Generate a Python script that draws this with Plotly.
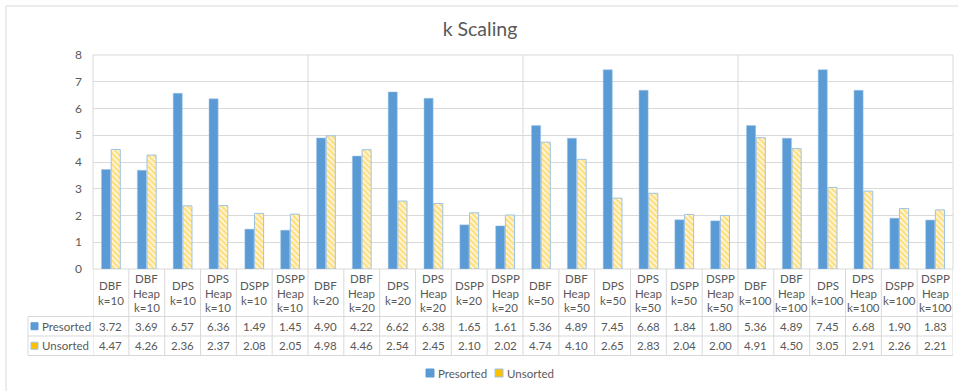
import plotly.graph_objects as go

# Categories (algorithm / k) and the two series
categories = [
    "DBF<br>k=10", "DBF<br>Heap<br>k=10", "DPS<br>k=10", "DPS<br>Heap<br>k=10", "DSPP<br>k=10", "DSPP<br>Heap<br>k=10",
    "DBF<br>k=20", "DBF<br>Heap<br>k=20", "DPS<br>k=20", "DPS<br>Heap<br>k=20", "DSPP<br>k=20", "DSPP<br>Heap<br>k=20",
    "DBF<br>k=50", "DBF<br>Heap<br>k=50", "DPS<br>k=50", "DPS<br>Heap<br>k=50", "DSPP<br>k=50", "DSPP<br>Heap<br>k=50",
    "DBF<br>k=100", "DBF<br>Heap<br>k=100", "DPS<br>k=100", "DPS<br>Heap<br>k=100", "DSPP<br>k=100", "DSPP<br>Heap<br>k=100",
]
presorted = [3.72, 3.69, 6.57, 6.36, 1.49, 1.45,
             4.90, 4.22, 6.62, 6.38, 1.65, 1.61,
             5.36, 4.89, 7.45, 6.68, 1.84, 1.80,
             5.36, 4.89, 7.45, 6.68, 1.90, 1.83]
unsorted = [4.47, 4.26, 2.36, 2.37, 2.08, 2.05,
            4.98, 4.46, 2.54, 2.45, 2.10, 2.02,
            4.74, 4.10, 2.65, 2.83, 2.04, 2.00,
            4.91, 4.50, 3.05, 2.91, 2.26, 2.21]
y_ticks = [0, 1, 2, 3, 4, 5, 6, 7, 8]
group_size = 6

W, H = 958, 391
ML, MR, MT, MB = 93, 5, 55, 122
PH = H - MT - MB
PW = W - ML - MR

BLUE = "#5B9BD5"
YELLOW = "#FFC000"
EDGE = "#9DC3E6"
GRID = "#D9D9D9"
TXT = "#595959"
FONT = "Lato"
FS = 11.5


def py(ypx):
    """pixel row -> paper y"""
    return (H - MB - ypx) / PH


def px(xpx):
    """pixel column -> paper x"""
    return (xpx - ML) / PW


fig = go.Figure()
fig.add_trace(go.Bar(
    name="Presorted", x=categories, y=presorted,
    marker=dict(color=BLUE, line=dict(color=EDGE, width=0.5)),
))
fig.add_trace(go.Bar(
    name="Unsorted", x=categories, y=unsorted,
    marker=dict(color="white", line=dict(color=EDGE, width=1),
                pattern=dict(shape="\\", fgcolor=YELLOW, bgcolor="white",
                             size=4, solidity=0.7)),
))

shapes = []
annotations = []
tfont = dict(size=FS, color=TXT, family=FONT)

# plot area frame and group separators
shapes.append(dict(type="rect", xref="paper", yref="paper", x0=0, x1=1, y0=0, y1=1,
                   line=dict(color=GRID, width=1), layer="below"))
for g in range(1, len(categories) // group_size):
    xs = g * group_size - 0.5
    shapes.append(dict(type="line", xref="x", yref="paper", x0=xs, x1=xs, y0=0, y1=1,
                       line=dict(color=GRID, width=1), layer="below"))

# outer chart border
shapes.append(dict(type="rect", xref="paper", yref="paper",
                   x0=px(6), x1=px(W + 5), y0=py(6), y1=py(H + 5),
                   line=dict(color=GRID, width=1)))

# data table grid
row_header_bottom = 316.5
row1_bottom = 336
row2_bottom = 355.5
label_left = 28
for ypx in (row_header_bottom, row1_bottom, row2_bottom):
    shapes.append(dict(type="line", xref="paper", yref="paper",
                       x0=px(label_left), x1=1, y0=py(ypx), y1=py(ypx),
                       line=dict(color=GRID, width=1)))
for i in range(len(categories) + 1):
    xs = i - 0.5
    shapes.append(dict(type="line", xref="x", yref="paper", x0=xs, x1=xs,
                       y0=py(H - MB), y1=py(row2_bottom),
                       line=dict(color=GRID, width=1)))
shapes.append(dict(type="line", xref="paper", yref="paper",
                   x0=px(label_left), x1=px(label_left),
                   y0=py(row_header_bottom), y1=py(row2_bottom),
                   line=dict(color=GRID, width=1)))

# table text: header lines are placed one by one for Excel-like spacing
line_rows = {2: [285, 300], 3: [278.5, 293, 307.5]}
for i, cat in enumerate(categories):
    parts = cat.split("<br>")
    for part, yc in zip(parts, line_rows[len(parts)]):
        annotations.append(dict(xref="x", yref="paper", x=i, y=py(yc), text=part,
                                showarrow=False, font=tfont, yanchor="middle"))
    annotations.append(dict(xref="x", yref="paper", x=i, y=py((row_header_bottom + row1_bottom) / 2),
                            text=f"{presorted[i]:.2f}", showarrow=False, font=tfont, yanchor="middle"))
    annotations.append(dict(xref="x", yref="paper", x=i, y=py((row1_bottom + row2_bottom) / 2),
                            text=f"{unsorted[i]:.2f}", showarrow=False, font=tfont, yanchor="middle"))


def key(x0, yc, fill, size=7):
    """small legend square"""
    h = size / 2
    shapes.append(dict(type="rect", xref="paper", yref="paper",
                       x0=px(x0), x1=px(x0 + size), y0=py(yc - h), y1=py(yc + h),
                       fillcolor=fill, line=dict(color=BLUE if fill == BLUE else EDGE, width=1)))


# series keys in the table's label column
for name, ya, yb, fill in (("Presorted", row_header_bottom, row1_bottom, BLUE),
                           ("Unsorted", row1_bottom, row2_bottom, YELLOW)):
    yc = (ya + yb) / 2
    key(31, yc, fill)
    annotations.append(dict(xref="paper", yref="paper", x=px(40), y=py(yc), text=name,
                            showarrow=False, xanchor="left", yanchor="middle", font=tfont))

# legend below the table
legend_y = 373
for name, x0, fill in (("Presorted", 426, BLUE), ("Unsorted", 495, YELLOW)):
    key(x0, legend_y, fill, size=8)
    annotations.append(dict(xref="paper", yref="paper", x=px(x0 + 10), y=py(legend_y), text=name,
                            showarrow=False, xanchor="left", yanchor="middle", font=tfont))

fig.update_layout(
    width=W, height=H,
    margin=dict(l=ML, r=MR, t=MT, b=MB),
    paper_bgcolor="white", plot_bgcolor="white",
    title=dict(text="k Scaling", x=480 / W, xanchor="center", y=1 - 29 / H, yanchor="middle",
               font=dict(size=19.5, color=TXT, family=FONT)),
    font=dict(family=FONT, color=TXT, size=FS),
    barmode="group", bargap=0.46, bargroupgap=0.06,
    shapes=shapes, annotations=annotations,
    showlegend=False,
)
fig.update_xaxes(showticklabels=False, showgrid=False, zeroline=False, ticks="",
                 range=[-0.5, len(categories) - 0.5], showline=False)
fig.update_yaxes(range=[0, 8], tickvals=y_ticks, showgrid=True, gridcolor=GRID, gridwidth=1,
                 zeroline=False, showline=False, ticks="", ticklabelstandoff=10,
                 tickfont=dict(size=12, color=TXT, family=FONT))

fig.write_html("out.html")
